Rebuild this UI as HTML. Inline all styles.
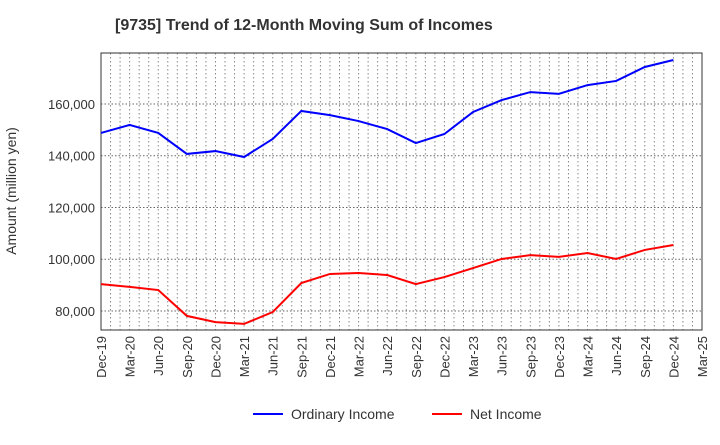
<!DOCTYPE html>
<html><head><meta charset="utf-8"><style>
body{margin:0;background:#fff;font-family:"Liberation Sans",sans-serif;}
</style></head><body>
<svg id="chart" width="720" height="440" xmlns="http://www.w3.org/2000/svg" font-family="Liberation Sans, sans-serif">
<text x="115" y="30" font-size="16" font-weight="bold" fill="#333">[9735]  Trend of 12-Month Moving Sum of Incomes</text>
<g id="grid"></g><g id="axes"></g><g id="series"></g>
<text transform="translate(16,191) rotate(-90)" text-anchor="middle" font-size="14" fill="#333">Amount (million yen)</text>
<g>
<line x1="253" y1="414" x2="283" y2="414" stroke="#0000ff" stroke-width="2"/>
<text x="291" y="419" font-size="14" fill="#333">Ordinary Income</text>
<line x1="432" y1="414" x2="462" y2="414" stroke="#ff0000" stroke-width="2"/>
<text x="470" y="419" font-size="14" fill="#333">Net Income</text>
</g>
</svg>
<script>
const xLabels=["Dec-19","Mar-20","Jun-20","Sep-20","Dec-20","Mar-21","Jun-21","Sep-21","Dec-21","Mar-22","Jun-22","Sep-22","Dec-22","Mar-23","Jun-23","Sep-23","Dec-23","Mar-24","Jun-24","Sep-24","Dec-24","Mar-25"];
const yTicks=[80000,100000,120000,140000,160000];
const ordinaryIncome=[148800,151900,148800,140700,141800,139500,146500,157300,155700,153400,150300,144900,148400,156900,161500,164600,163900,167300,168900,174300,177000];
const netIncome=[90400,89300,88100,78100,75700,75000,79600,90800,94300,94700,93900,90400,93100,96600,100100,101600,100900,102400,100100,103600,105500];
const L=101,R=702,T=53,B=330,yMin=72650,yMax=179700;
const xs=i=>L+i*(R-L)/(xLabels.length-1);
const ys=v=>B-(v-yMin)/(yMax-yMin)*(B-T);
const NS="http://www.w3.org/2000/svg";
function mk(t,a,p){const e=document.createElementNS(NS,t);for(const k in a)e.setAttribute(k,a[k]);p.appendChild(e);return e;}
const g=document.getElementById('grid'),ax=document.getElementById('axes'),s=document.getElementById('series');
for(let m=1;m<(xLabels.length-1)*3;m++){const x=L+m*(R-L)/((xLabels.length-1)*3);
const l=mk('line',{x1:x,x2:x,y1:T,y2:B,stroke:'#888','stroke-dasharray':'1.5,2.5','stroke-width':1},g);

}
yTicks.forEach(v=>{const y=ys(v);
const l=mk('line',{x1:L,x2:R,y1:y,y2:y,stroke:'#666','stroke-dasharray':'1.5,2','stroke-width':1},g);


const t=mk('text',{x:L-6,y:y+5,'text-anchor':'end','font-size':13,fill:'#333'},ax);t.textContent=v.toLocaleString('en-US');

});
xLabels.forEach((lb,i)=>{const x=xs(i);
const t=mk('text',{transform:`translate(${x+5},${B+6}) rotate(-90)`,'text-anchor':'end','font-size':13,fill:'#333'},ax);t.textContent=lb;

});
const fr=mk('rect',{x:L,y:T,width:R-L,height:B-T,fill:'none',stroke:'#333','stroke-width':1},ax);


function line(d,c,n){const p=mk('polyline',{points:d.map((v,i)=>xs(i)+','+ys(v)).join(' '),fill:'none',stroke:c,'stroke-width':2},s);

}
line(ordinaryIncome,'#0000ff','ordinary-income-line');
line(netIncome,'#ff0000','net-income-line');
</script>
</body></html>
